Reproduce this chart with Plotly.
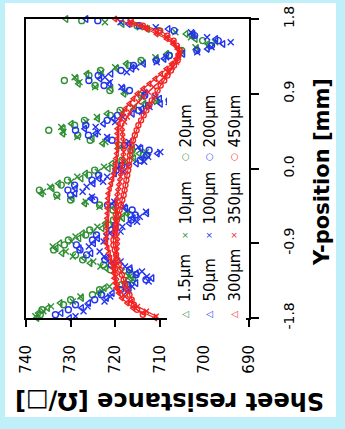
import plotly.graph_objects as go

# Y-position sampling grids [mm] (three interleaved scans)
pos_a = [-1.80, -1.74, -1.68, -1.62, -1.56, -1.50, -1.44, -1.38, -1.32, -1.26, -1.20, -1.14, -1.08, -1.02, -0.96,
         -0.90, -0.84, -0.78, -0.72, -0.66, -0.60, -0.54, -0.48, -0.42, -0.36, -0.30, -0.24, -0.18, -0.12, -0.06,
         0.00, 0.06, 0.12, 0.18, 0.24, 0.30, 0.36, 0.42, 0.48, 0.54, 0.60, 0.66, 0.72, 0.78, 0.84, 0.90, 0.96,
         1.02, 1.08, 1.14, 1.20, 1.26, 1.32, 1.38, 1.44, 1.50, 1.56, 1.62, 1.68, 1.74, 1.80]
pos_b = [-1.78, -1.72, -1.66, -1.60, -1.54, -1.48, -1.42, -1.36, -1.30, -1.24, -1.18, -1.12, -1.06, -1.00, -0.94,
         -0.88, -0.82, -0.76, -0.70, -0.64, -0.58, -0.52, -0.46, -0.40, -0.34, -0.28, -0.22, -0.16, -0.10, -0.04,
         0.02, 0.08, 0.14, 0.20, 0.26, 0.32, 0.38, 0.44, 0.50, 0.56, 0.62, 0.68, 0.74, 0.80, 0.86, 0.92, 0.98,
         1.04, 1.10, 1.16, 1.22, 1.28, 1.34, 1.40, 1.46, 1.52, 1.58, 1.64, 1.70, 1.76]
pos_c = [-1.76, -1.70, -1.64, -1.58, -1.52, -1.46, -1.40, -1.34, -1.28, -1.22, -1.16, -1.10, -1.04, -0.98, -0.92,
         -0.86, -0.80, -0.74, -0.68, -0.62, -0.56, -0.50, -0.44, -0.38, -0.32, -0.26, -0.20, -0.14, -0.08, -0.02,
         0.04, 0.10, 0.16, 0.22, 0.28, 0.34, 0.40, 0.46, 0.52, 0.58, 0.64, 0.70, 0.76, 0.82, 0.88, 0.94, 1.00,
         1.06, 1.12, 1.18, 1.24, 1.30, 1.36, 1.42, 1.48, 1.54, 1.60, 1.66, 1.72, 1.78]

# Sheet resistance [Ohm/sq]
green_1p5 = [737.5, 737.2, 735.1, 732.3, 727.5, 723.6, 722.4, 717.9, 715.8, 717.1, 722.0, 725.6, 726.9, 731.9, 733.2,
             732.4, 728.1, 727.3, 722.9, 722.2, 718.3, 717.4, 720.1, 726.8, 729.6, 736.5, 734.1, 732.7, 727.6, 726.6,
             721.5, 720.7, 715.8, 714.6, 716.1, 722.8, 725.1, 731.7, 731.6, 729.8, 723.9, 721.8, 715.6, 713.5, 710.8,
             718.0, 720.9, 728.2, 728.7, 726.3, 719.6, 717.5, 710.7, 708.4, 701.7, 699.2, 702.0, 704.1, 712.7, 718.4,
             731.0]
green_10 = [737.9, 736.1, 734.4, 729.5, 727.8, 722.9, 721.3, 716.4, 716.8, 718.5, 723.3, 724.9, 729.5, 731.1, 734.0,
            729.8, 728.9, 724.9, 724.0, 719.8, 719.0, 717.4, 723.5, 726.6, 733.0, 736.2, 734.6, 729.9, 728.5, 723.9,
            722.5, 717.8, 716.3, 713.1, 719.1, 722.2, 728.5, 731.6, 732.1, 726.5, 724.1, 718.5, 716.0, 710.6, 714.1,
            717.8, 724.5, 728.0, 729.1, 723.1, 720.0, 713.9, 711.0, 705.0, 702.0, 697.6, 703.0, 706.5, 714.5, 722.3]
green_20 = [736.8, 736.4, 731.6, 730.0, 725.1, 723.5, 718.6, 716.9, 716.3, 721.1, 722.6, 727.3, 728.9, 733.8, 731.4,
            730.5, 726.6, 725.7, 721.5, 720.4, 716.6, 720.5, 723.5, 730.0, 733.1, 737.0, 732.1, 730.7, 725.9, 724.6,
            719.8, 718.5, 713.7, 716.2, 719.1, 725.6, 728.4, 734.9, 729.1, 726.9, 721.1, 718.9, 713.1, 711.0, 714.2,
            721.2, 724.5, 731.4, 725.9, 723.3, 716.9, 714.2, 707.9, 705.1, 698.8, 700.4, 702.7, 710.3, 715.1, 727.5]
blue_50 = [730.2, 732.1, 727.5, 725.9, 721.9, 720.6, 716.8, 715.3, 711.7, 715.2, 716.6, 720.3, 721.8, 725.4, 728.0,
           724.8, 723.9, 720.7, 719.8, 716.8, 715.9, 712.9, 717.6, 720.2, 725.4, 729.0, 728.9, 724.9, 723.6, 720.1,
           718.9, 715.2, 713.9, 710.5, 714.2, 716.9, 721.7, 724.3, 726.8, 722.6, 720.4, 716.1, 714.0, 709.8, 710.0,
           713.1, 718.2, 721.3, 723.4, 720.9, 716.2, 713.6, 709.0, 704.8, 699.3, 695.8, 697.4, 702.5, 708.1, 717.0,
           726.5]
blue_100 = [728.9, 727.1, 726.2, 722.4, 721.1, 717.3, 716.2, 712.5, 712.9, 714.0, 717.8, 718.8, 722.5, 723.5, 725.9,
            722.6, 722.0, 718.8, 718.4, 715.1, 714.5, 713.1, 718.1, 720.2, 725.2, 727.3, 726.4, 722.7, 721.8, 718.2,
            717.1, 713.5, 712.6, 709.9, 714.8, 716.9, 721.8, 723.9, 724.4, 720.0, 718.3, 714.0, 712.3, 708.0, 711.0,
            713.5, 718.6, 721.2, 722.3, 717.4, 715.3, 710.7, 708.6, 701.6, 698.4, 694.1, 699.4, 703.0, 710.9, 718.8]
blue_200 = [733.4, 730.5, 728.9, 724.6, 723.1, 718.8, 717.2, 713.1, 715.3, 716.8, 720.9, 722.3, 726.4, 727.9, 728.7,
            725.1, 724.2, 720.8, 719.9, 716.4, 715.5, 716.2, 721.7, 724.6, 730.0, 730.6, 729.1, 725.2, 723.7, 719.8,
            718.5, 714.4, 712.9, 712.4, 717.9, 720.7, 726.0, 728.9, 726.6, 721.8, 719.5, 714.8, 712.5, 707.9, 713.4,
            716.8, 722.5, 725.9, 723.8, 718.7, 715.9, 710.8, 707.9, 701.7, 698.4, 696.9, 702.2, 706.8, 714.6, 723.9]
red_300 = [711.0, 713.5, 716.0, 717.3, 718.5, 719.2, 719.8, 720.0, 720.2, 720.3, 720.5, 720.8, 721.1, 721.4, 721.7,
           722.0, 722.0, 721.9, 721.9, 721.8, 721.8, 721.7, 721.7, 721.6, 721.6, 721.5, 721.2, 720.9, 720.6, 720.3,
           720.0, 719.9, 719.8, 719.6, 719.5, 719.5, 719.5, 719.5, 719.5, 719.2, 718.8, 718.3, 717.7, 716.8, 715.9,
           715.0, 713.7, 712.3, 711.0, 709.7, 708.5, 707.3, 706.3, 705.8, 705.9, 707.0, 708.4, 710.7, 713.0, 716.5,
           720.0]
red_350 = [710.8, 713.0, 715.0, 716.5, 717.8, 718.8, 719.5, 719.7, 719.8, 719.9, 720.0, 719.9, 719.8, 719.7, 719.6,
           719.5, 719.6, 719.7, 719.8, 719.9, 720.0, 719.9, 719.8, 719.7, 719.6, 719.4, 719.2, 719.0, 718.8, 718.6,
           718.5, 718.3, 718.2, 718.1, 718.0, 718.1, 718.3, 718.4, 718.5, 717.9, 717.3, 716.7, 715.8, 714.8, 713.7,
           712.6, 711.4, 710.2, 709.0, 708.1, 707.2, 706.3, 705.8, 705.6, 706.1, 707.0, 708.5, 710.6, 713.2, 716.7]
red_450 = [713.8, 715.1, 715.8, 716.3, 716.8, 717.3, 717.8, 718.1, 718.5, 718.9, 719.2, 719.5, 719.8, 720.1, 720.4,
           720.4, 720.2, 720.0, 719.8, 719.6, 719.3, 719.0, 718.7, 718.4, 718.1, 717.9, 717.7, 717.5, 717.3, 717.1,
           716.9, 716.8, 716.7, 716.6, 716.3, 716.0, 715.6, 715.2, 714.8, 714.2, 713.6, 713.0, 712.4, 711.8, 711.2,
           710.5, 709.8, 709.0, 708.3, 707.5, 706.8, 706.0, 705.8, 705.5, 706.2, 706.9, 708.3, 709.9, 713.8, 716.5]

x_ticks = [740, 730, 720, 710, 700, 690]
y_ticks = [-1.8, -0.9, 0.0, 0.9, 1.8]
y_ticktext = ["-1.8", "-0.9", "0.0", "0.9", "1.8"]
legend_labels = [["1.5µm", "10µm", "20µm"],
                 ["50µm", "100µm", "200µm"],
                 ["300µm", "350µm", "450µm"]]
legend_glyphs = ["△", "×", "○"]

GREEN = "#2f8f34"
BLUE = "#2233ee"
RED = "#f42424"
CYAN = "#bfeff8"
FONT = "DejaVu Sans"

series = [
    (green_1p5, pos_a, GREEN, "triangle-left-open"),
    (green_10, pos_b, GREEN, "x-thin-open"),
    (green_20, pos_c, GREEN, "circle-open"),
    (blue_50, pos_a, BLUE, "triangle-left-open"),
    (blue_100, pos_b, BLUE, "x-thin-open"),
    (blue_200, pos_c, BLUE, "circle-open"),
    (red_300, pos_a, RED, "triangle-left-open"),
    (red_350, pos_b, RED, "x-thin-open"),
    (red_450, pos_c, RED, "circle-open"),
]

fig = go.Figure()
for vals, pos, col, sym in series:
    is_red = col == RED
    fig.add_trace(go.Scatter(
        x=vals, y=pos,
        mode="lines+markers" if is_red else "markers",
        line=dict(color=col, width=1.2),
        marker=dict(symbol=sym, size=6 if not is_red else 5, color=col, line=dict(width=1.4, color=col)),
        cliponaxis=False, showlegend=False, hoverinfo="skip"))

# plot area: x 26..249 px, y 19..318 px
W, H = 345, 429
L, R_, T, B = 26, 96, 19, 111
pw, ph = W - L - R_, H - T - B


def px(xp):
    return (xp - L) / pw


def py(yp):
    return (H - B - yp) / ph


shapes = [
    dict(type="rect", xref="paper", yref="paper", x0=px(5), x1=px(336), y0=py(417), y1=py(3),
         fillcolor="white", line=dict(width=0), layer="below"),
    dict(type="rect", xref="paper", yref="paper", x0=px(167), x1=px(246), y0=py(327), y1=py(92),
         fillcolor="white", line=dict(width=0), layer="above"),
]

annotations = [
    dict(text="Sheet resistance [Ω/□]", xref="paper", yref="paper", x=px(170), y=py(401),
         xanchor="center", yanchor="middle", textangle=180, showarrow=False,
         font=dict(family=FONT, size=24, color="black", weight="bold")),
    dict(text="Y-position [mm]", xref="paper", yref="paper", x=px(322), y=py(172),
         xanchor="center", yanchor="middle", textangle=-90, showarrow=False,
         font=dict(family=FONT, size=21, color="black", weight="bold")),
]

col_x = [185, 209, 234]
glyph_y = [315, 235, 157]
label_y = [304, 227, 150]
colors = [GREEN, BLUE, RED]
for i, labels in enumerate(legend_labels):
    for j, lab in enumerate(labels):
        annotations.append(dict(text=legend_glyphs[j], xref="paper", yref="paper", x=px(col_x[i]),
                                y=py(glyph_y[j]), xanchor="center", yanchor="middle", textangle=-90,
                                showarrow=False, font=dict(family=FONT, size=9, color=colors[i])))
        annotations.append(dict(text=lab, xref="paper", yref="paper", x=px(col_x[i]), y=py(label_y[j]),
                                xanchor="center", yanchor="bottom", textangle=-90, showarrow=False,
                                font=dict(family=FONT, size=15, color="black")))

fig.update_layout(
    width=W, height=H, margin=dict(l=L, r=R_, t=T, b=B, pad=0, autoexpand=False),
    paper_bgcolor=CYAN, plot_bgcolor="white", showlegend=False,
    font=dict(family=FONT, color="black"),
    shapes=shapes, annotations=annotations,
)
fig.update_xaxes(range=[740, 690], tickvals=x_ticks, ticks="outside", ticklen=7, tickwidth=1.5,
                 tickcolor="black", tickangle=-90, tickfont=dict(family=FONT, size=15, color="black"),
                 showline=True, linecolor="black", linewidth=2, mirror=True, showgrid=False,
                 zeroline=False, ticklabelstandoff=12, automargin=False)
fig.update_yaxes(range=[-1.8, 1.8], side="right", tickvals=y_ticks, ticktext=y_ticktext, ticks="outside",
                 ticklen=8, tickwidth=1.5, tickcolor="black", tickangle=-90,
                 tickfont=dict(family=FONT, size=14, color="black"),
                 showline=True, linecolor="black", linewidth=2, mirror=True, showgrid=False,
                 zeroline=False, ticklabelstandoff=18, automargin=False)

fig.write_html("out.html", config={"displayModeBar": False},
               post_script="document.body.style.margin='0';document.body.style.overflow='hidden';")
